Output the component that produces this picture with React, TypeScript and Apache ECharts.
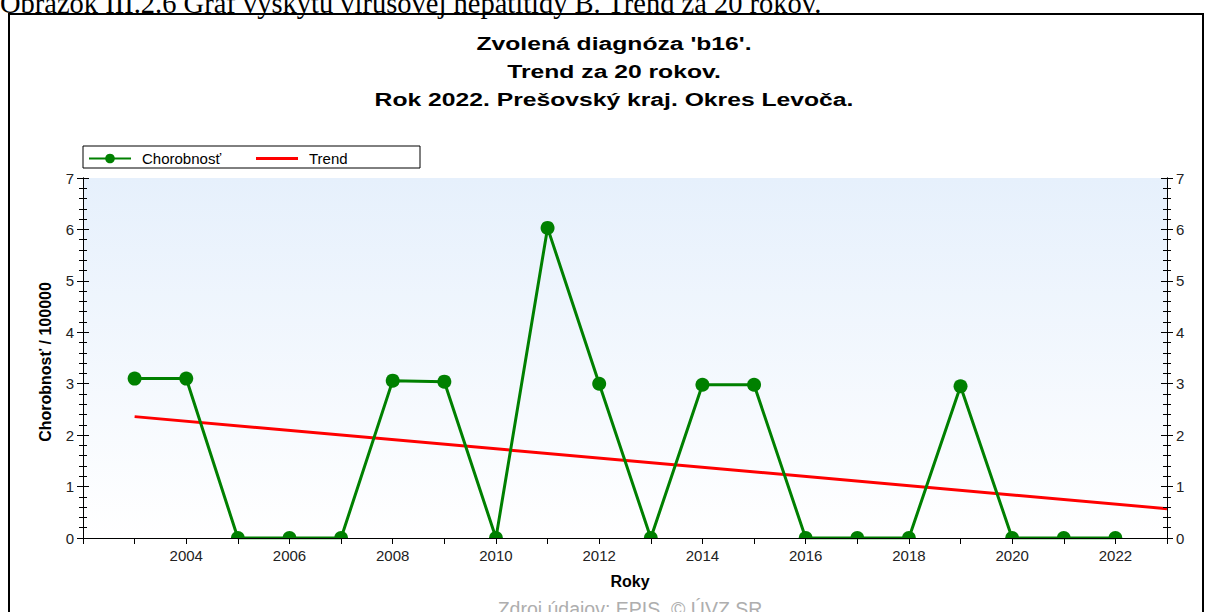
import React, { useEffect, useRef } from "react";
import * as echarts from "echarts";

const years = [2003, 2004, 2005, 2006, 2007, 2008, 2009, 2010, 2011, 2012, 2013, 2014, 2015, 2016, 2017, 2018, 2019, 2020, 2021, 2022];
const morbidity = [3.1, 3.1, 0, 0, 0, 3.06, 3.04, 0, 6.03, 3.0, 0, 2.98, 2.98, 0, 0, 0, 2.95, 0, 0, 0];
const trendYears = [2003, 2023];
const trendValues = [2.36, 0.57];
const titleLines = ["Zvolená diagnóza 'b16'.", "Trend za 20 rokov.", "Rok 2022. Prešovský kraj. Okres Levoča."];
const caption = "Obrázok III.2.6 Graf výskytu vírusovej hepatitídy B. Trend za 20 rokov.";
const source = "Zdroj údajov: EPIS, © ÚVZ SR";

const FONT = "Liberation Sans, Arial, sans-serif";
const HALF_DOT = "path://M0,10 A10,10 0 0 1 20,10 Z";

export default function App() {
  const ref = useRef<HTMLDivElement>(null);
  useEffect(() => {
    if (!ref.current) return;
    const chart = echarts.init(ref.current, null, { renderer: "svg" });
    const tickStyle = { color: "#000", width: 1 };
    const yBase = {
      type: "value",
      min: 0,
      max: 7,
      interval: 1,
      z: 10,
      splitLine: { show: false },
      axisLine: { show: true, lineStyle: { color: "#000", width: 1 } },
    };
    const labelStyle = { margin: 9, color: "#222", fontSize: 15, fontFamily: FONT };
    const yAxes: any[] = [
      { ...yBase, position: "left", axisTick: { show: true, length: 6, lineStyle: tickStyle }, minorTick: { show: true, splitNumber: 5, length: 4, lineStyle: tickStyle }, axisLabel: labelStyle },
      { ...yBase, position: "left", axisTick: { show: true, inside: true, length: 6, lineStyle: tickStyle }, minorTick: { show: true, splitNumber: 5, length: 4, lineStyle: tickStyle }, axisLabel: { show: false } },
      { ...yBase, position: "right", axisTick: { show: true, length: 6, lineStyle: tickStyle }, minorTick: { show: true, splitNumber: 5, length: 4, lineStyle: tickStyle }, axisLabel: labelStyle },
      { ...yBase, position: "right", axisTick: { show: true, inside: true, length: 6, lineStyle: tickStyle }, minorTick: { show: true, splitNumber: 5, length: 4, lineStyle: tickStyle }, axisLabel: { show: false } },
    ];
    chart.setOption({
      animation: false,
      backgroundColor: "#ffffff",
      grid: {
        left: 83,
        right: 38,
        top: 178,
        bottom: 74,
        show: true,
        borderWidth: 0,
        backgroundColor: new echarts.graphic.LinearGradient(0, 0, 0, 1, [
          { offset: 0, color: "#e6f0fc" },
          { offset: 1, color: "#ffffff" },
        ]),
      },
      legend: {
        left: 83,
        top: 146,
        itemWidth: 42,
        itemHeight: 12,
        itemGap: 35,
        textStyle: { fontSize: 15, color: "#000", fontFamily: FONT, padding: [0, 0, 0, 6] },
        data: [
          { name: "Chorobnosť" },
          { name: "Trend", icon: "path://M0,0 L0.01,0 Z M0,4.5 L42,4.5 L42,7.5 L0,7.5 Z M0,12 L0.01,12 Z" },
        ],
      },
      xAxis: {
        type: "value",
        min: 2002,
        max: 2023,
        interval: 1,
        z: 10,
        splitLine: { show: false },
        axisLine: { show: true, onZero: false, lineStyle: { color: "#000", width: 1 } },
        axisTick: { show: true, length: 6, lineStyle: tickStyle },
        axisLabel: {
          margin: 10,
          color: "#222",
          fontSize: 15,
          fontFamily: FONT,
          formatter: (v: number) => (v % 2 === 0 && v > 2002 ? String(v) : ""),
        },
      },
      yAxis: yAxes,
      graphic: [
        { type: "rect", shape: { x: 9, y: 14, width: 1194, height: 620 }, style: { fill: "none", stroke: "#000", lineWidth: 2 }, z: 100 },
        { type: "text", x: 0, y: 3, style: { text: caption, font: "28.5px 'Liberation Serif', 'Times New Roman', serif", fill: "#000", textVerticalAlign: "middle", textAlign: "left" } },
        ...titleLines.map((t, i) => ({ type: "text", x: 614, y: 44 + i * 28, scaleX: 1.3, style: { text: t, font: "bold 19px " + FONT, fill: "#000", textAlign: "center", textVerticalAlign: "middle" } })),
        { type: "rect", shape: { x: 83, y: 146, width: 337, height: 22 }, style: { fill: "#fff", stroke: "#000", lineWidth: 1 }, z: -1 },
        { type: "text", x: 45, y: 362, rotation: Math.PI / 2, style: { text: "Chorobnosť / 100000", font: "bold 16px " + FONT, fill: "#000", textAlign: "center", textVerticalAlign: "middle" } },
        { type: "text", x: 630, y: 581, style: { text: "Roky", font: "bold 16px " + FONT, fill: "#000", textAlign: "center", textVerticalAlign: "middle" } },
        { type: "text", x: 630, y: 609, style: { text: source, font: "19.5px " + FONT, fill: "#aeaeae", textAlign: "center", textVerticalAlign: "middle" } },
      ],
      series: [
        {
          name: "Chorobnosť",
          type: "line",
          yAxisIndex: 0,
          data: years.map((y, i) =>
            morbidity[i] === 0
              ? { value: [y, morbidity[i]], symbol: HALF_DOT, symbolSize: [14, 7], symbolOffset: [0, -3.5] }
              : { value: [y, morbidity[i]] }
          ),
          symbol: "circle",
          symbolSize: 14,
          itemStyle: { color: "#008000" },
          lineStyle: { color: "#008000", width: 3 },
          z: 3,
        },
        {
          name: "Trend",
          type: "line",
          yAxisIndex: 0,
          data: trendYears.map((y, i) => [y, trendValues[i]]),
          symbol: "none",
          itemStyle: { color: "#ff0000" },
          lineStyle: { color: "#ff0000", width: 3 },
          z: 2,
        },
      ],
    });
    return () => chart.dispose();
  }, []);
  return <div ref={ref} style={{ position: "absolute", left: 0, top: 0, width: 1205, height: 612 }} />;
}
